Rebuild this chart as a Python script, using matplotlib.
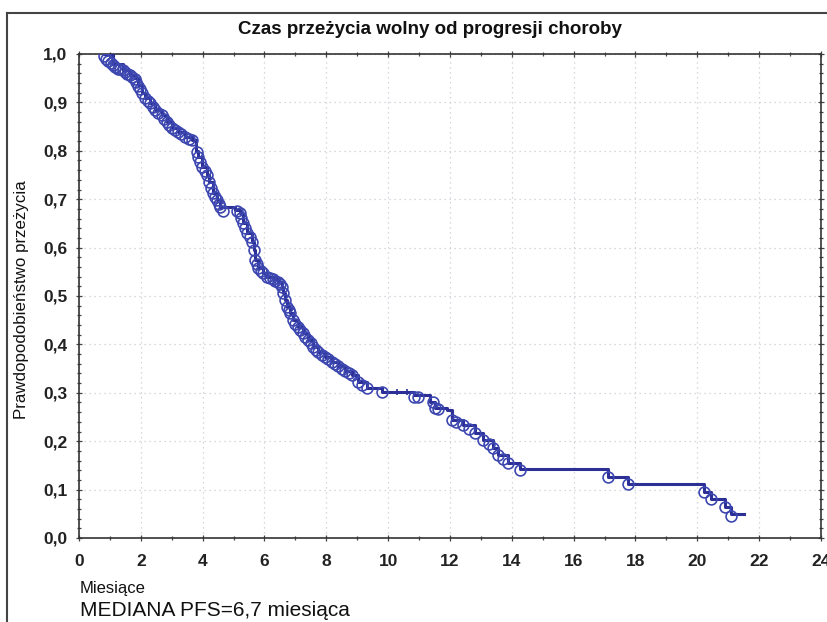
import matplotlib
matplotlib.use("Agg")
import matplotlib.pyplot as plt
from matplotlib.ticker import FixedLocator, FixedFormatter, MultipleLocator
from matplotlib.lines import Line2D

# ---- data ----
km_time = [0.80, 1.10, 1.42, 1.65, 1.81, 1.90, 2.04, 2.13, 2.30, 2.46, 2.68, 2.85,
           3.00, 3.20, 3.43, 3.65, 3.80, 3.85, 3.98, 4.14, 4.22, 4.33, 4.45, 4.56,
           5.05, 5.20, 5.30, 5.43, 5.60, 5.65, 5.70, 5.80, 5.95, 6.08, 6.27, 6.43,
           6.56, 6.60, 6.66, 6.73, 6.83, 6.92, 7.08, 7.24, 7.40, 7.57, 7.73, 7.96,
           8.18, 8.38, 8.60, 8.83, 9.02, 9.31, 9.80, 10.85, 11.35, 11.51, 11.90,
           12.06, 12.42, 12.80, 13.07, 13.39, 13.55, 13.87, 14.26, 17.10, 17.76,
           20.20, 20.45, 20.90, 21.10]
km_surv = [1.000, 0.980, 0.967, 0.957, 0.950, 0.936, 0.920, 0.909, 0.899, 0.884, 0.874, 0.860,
           0.847, 0.839, 0.829, 0.822, 0.800, 0.787, 0.767, 0.750, 0.735, 0.712, 0.698, 0.684,
           0.678, 0.671, 0.651, 0.630, 0.612, 0.595, 0.574, 0.558, 0.547, 0.539, 0.535, 0.529,
           0.519, 0.506, 0.492, 0.477, 0.465, 0.450, 0.436, 0.424, 0.409, 0.395, 0.384, 0.374,
           0.364, 0.355, 0.345, 0.337, 0.322, 0.310, 0.302, 0.295, 0.281, 0.269, 0.264,
           0.244, 0.233, 0.217, 0.202, 0.186, 0.171, 0.155, 0.142, 0.126, 0.112,
           0.095, 0.080, 0.065, 0.050]
km_end = 21.50

# censored observations (open circles)
cens_time = [0.80, 0.88, 0.95, 1.03, 1.10, 1.18, 1.25, 1.33, 1.42, 1.50, 1.55, 1.65, 1.72,
             1.81, 1.85, 1.90, 1.97, 2.04, 2.13, 2.22, 2.30, 2.38, 2.46, 2.57, 2.68, 2.76,
             2.85, 2.92, 3.00, 3.10, 3.20, 3.30, 3.43, 3.55, 3.65, 3.82, 3.85, 3.92, 3.98,
             4.06, 4.14, 4.22, 4.28, 4.33, 4.40, 4.45, 4.52, 4.56, 4.66, 5.10, 5.20, 5.25,
             5.30, 5.38, 5.43, 5.52, 5.60, 5.65, 5.70, 5.75, 5.80, 5.88, 5.95, 6.08, 6.18,
             6.27, 6.35, 6.43, 6.50, 6.56, 6.60, 6.66, 6.73, 6.78, 6.83, 6.92, 7.00, 7.08,
             7.16, 7.24, 7.32, 7.40, 7.50, 7.57, 7.65, 7.73, 7.85, 7.96, 8.07, 8.18, 8.28,
             8.38, 8.50, 8.60, 8.72, 8.83, 9.02, 9.15, 9.31, 9.80, 10.85, 10.97, 11.45,
             11.51, 11.62, 12.06, 12.20, 12.42, 12.60, 12.80, 13.07, 13.25, 13.39, 13.55,
             13.70, 13.87, 14.26, 17.10, 17.76, 20.20, 20.45, 20.90, 21.10]
cens_surv = [0.995, 0.990, 0.985, 0.982, 0.978, 0.974, 0.970, 0.968, 0.966, 0.962, 0.959,
             0.956, 0.953, 0.949, 0.942, 0.934, 0.928, 0.920, 0.909, 0.903, 0.899, 0.891,
             0.884, 0.879, 0.874, 0.866, 0.860, 0.853, 0.847, 0.843, 0.839, 0.834, 0.829,
             0.825, 0.822, 0.797, 0.787, 0.777, 0.767, 0.758, 0.750, 0.735, 0.723, 0.712,
             0.705, 0.698, 0.690, 0.684, 0.676, 0.676, 0.671, 0.662, 0.651, 0.640, 0.630,
             0.621, 0.612, 0.595, 0.574, 0.566, 0.558, 0.552, 0.547, 0.539, 0.537, 0.535,
             0.532, 0.529, 0.524, 0.519, 0.506, 0.492, 0.477, 0.471, 0.465, 0.450, 0.443,
             0.436, 0.430, 0.424, 0.416, 0.409, 0.402, 0.395, 0.389, 0.384, 0.379, 0.374,
             0.369, 0.364, 0.359, 0.355, 0.350, 0.345, 0.341, 0.337, 0.322, 0.316, 0.310,
             0.302, 0.292, 0.292, 0.281, 0.269, 0.266, 0.244, 0.240, 0.233, 0.225, 0.217,
             0.202, 0.194, 0.186, 0.171, 0.163, 0.155, 0.140, 0.126, 0.112, 0.095, 0.080,
             0.065, 0.045]
tick_time = [10.30, 10.60]
tick_surv = [0.302, 0.302]

x_ticks = [0, 2, 4, 6, 8, 10, 12, 14, 16, 18, 20, 22, 24]
x_labels = ["0", "2", "4", "6", "8", "10", "12", "14", "16", "18", "20", "22", "24"]
y_ticks = [0.0, 0.1, 0.2, 0.3, 0.4, 0.5, 0.6, 0.7, 0.8, 0.9, 1.0]
y_labels = ["0,0", "0,1", "0,2", "0,3", "0,4", "0,5", "0,6", "0,7", "0,8", "0,9", "1,0"]

title = "Czas przeżycia wolny od progresji choroby"
xlabel = "Miesiące"
ylabel = "Prawdopodobieństwo przeżycia"
note = "MEDIANA PFS=6,7 miesiąca"

# ---- figure ----
plt.rcParams['font.family'] = ['Liberation Sans', 'DejaVu Sans']
W, H = 828, 622
fig = plt.figure(figsize=(W / 100, H / 100), dpi=100)
ax = fig.add_axes([79 / W, 1 - 538 / H, (821 - 79) / W, (538 - 54) / H])

line_col = "#2b2f96"
circ_col = "#3d47b0"

ax.step(km_time + [km_end], km_surv + [km_surv[-1]], where="post",
        color=line_col, lw=2.2, zorder=3)
ax.plot(cens_time, cens_surv, ls="none", marker="o", ms=7.8, mfc="none",
        mec=circ_col, mew=1.2, zorder=4)
ax.plot(tick_time, tick_surv, ls="none", marker="|", ms=5, mec=line_col,
        mew=1.2, zorder=4)

ax.set_xlim(0, 24)
ax.set_ylim(0, 1.0)
ax.xaxis.set_major_locator(FixedLocator(x_ticks))
ax.xaxis.set_major_formatter(FixedFormatter(x_labels))
ax.yaxis.set_major_locator(FixedLocator(y_ticks))
ax.yaxis.set_major_formatter(FixedFormatter(y_labels))
ax.xaxis.set_minor_locator(MultipleLocator(1))
ax.yaxis.set_minor_locator(MultipleLocator(0.02))
ax.tick_params(which="both", direction="inout", top=True, right=True,
               color="#444444", width=0.9)
ax.tick_params(which="major", length=5, labelsize=12.5, pad=6)
ax.tick_params(which="minor", length=3)
ax.tick_params(axis="x", pad=9)
for lab in ax.get_xticklabels() + ax.get_yticklabels():
    lab.set_fontweight("bold")
    lab.set_color("#222222")
ax.grid(True, which="major", color="#c8ccd4", ls=(0, (1, 3)), lw=0.9)
for sp in ax.spines.values():
    sp.set_color("#333333")
    sp.set_linewidth(1.2)

fig.text(430 / W, 1 - 30 / H, title, ha="center", va="center", fontsize=13.5,
         fontweight="bold", color="#111111")
fig.text(22 / W, 1 - 300 / H, ylabel, ha="center", va="center", rotation=90,
         fontsize=12.2, color="#111111")
fig.text(80 / W, 1 - 589 / H, xlabel, ha="left", va="center", fontsize=12,
         color="#111111")
fig.text(80 / W, 1 - 611 / H, note, ha="left", va="center", fontsize=15,
         color="#111111")

# figure frame (left and top edges visible)
fig.add_artist(Line2D([7 / W, 7 / W], [0, 1 - 13 / H], transform=fig.transFigure,
                      color="#444444", lw=1.5))
fig.add_artist(Line2D([7 / W, 1], [1 - 13 / H, 1 - 13 / H], transform=fig.transFigure,
                      color="#444444", lw=1.5))

fig.savefig("out.png", dpi=100)
